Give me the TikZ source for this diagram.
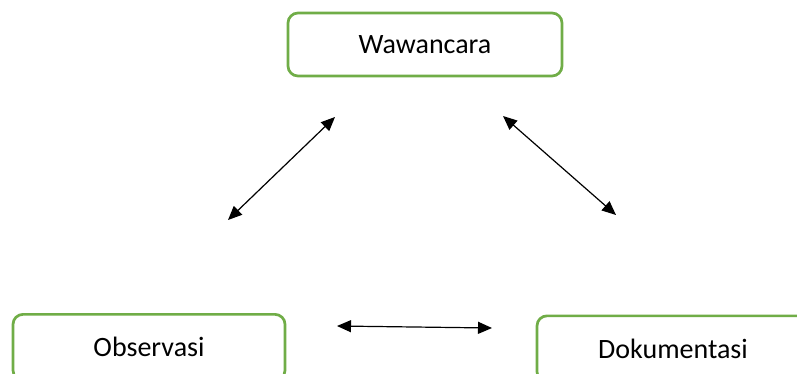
\documentclass[tikz,border=0pt]{standalone}
\usepackage{fontspec}
\setmainfont{Carlito}
\usetikzlibrary{arrows.meta}
\definecolor{boxgreen}{HTML}{70AD47}
\tikzset{
  methodbox/.style={draw=boxgreen, line width=2.7pt, rounded corners=10pt, fill=white,
    minimum width=272pt, minimum height=63pt, inner sep=0pt,
    font=\fontsize{28}{34}\selectfont, text=black},
  biarrow/.style={line width=1.2pt, {Triangle[length=14pt,width=12pt]}-{Triangle[length=14pt,width=12pt]}}
}
\begin{document}
\begin{tikzpicture}[x=1pt,y=-1pt]
\useasboundingbox (0,0) rectangle (797,373);
\clip (0,0) rectangle (797,373);
\node[methodbox, minimum width=274pt] (waw) at (425,44.5) {Wawancara};
\node[methodbox, anchor=north, minimum height=66pt] (obs) at (149,313) {Observasi};
\node[methodbox, anchor=north, minimum height=66pt] (dok) at (673,314.5) {Dokumentasi};
\coordinate (a1) at (335,117);
\coordinate (a2) at (228,220);
\coordinate (b1) at (503,116);
\coordinate (b2) at (616,215);
\coordinate (c1) at (337,326);
\coordinate (c2) at (492,328);
\draw[biarrow] (a1) -- (a2);
\draw[biarrow] (b1) -- (b2);
\draw[biarrow] (c1) -- (c2);
\end{tikzpicture}
\end{document}
